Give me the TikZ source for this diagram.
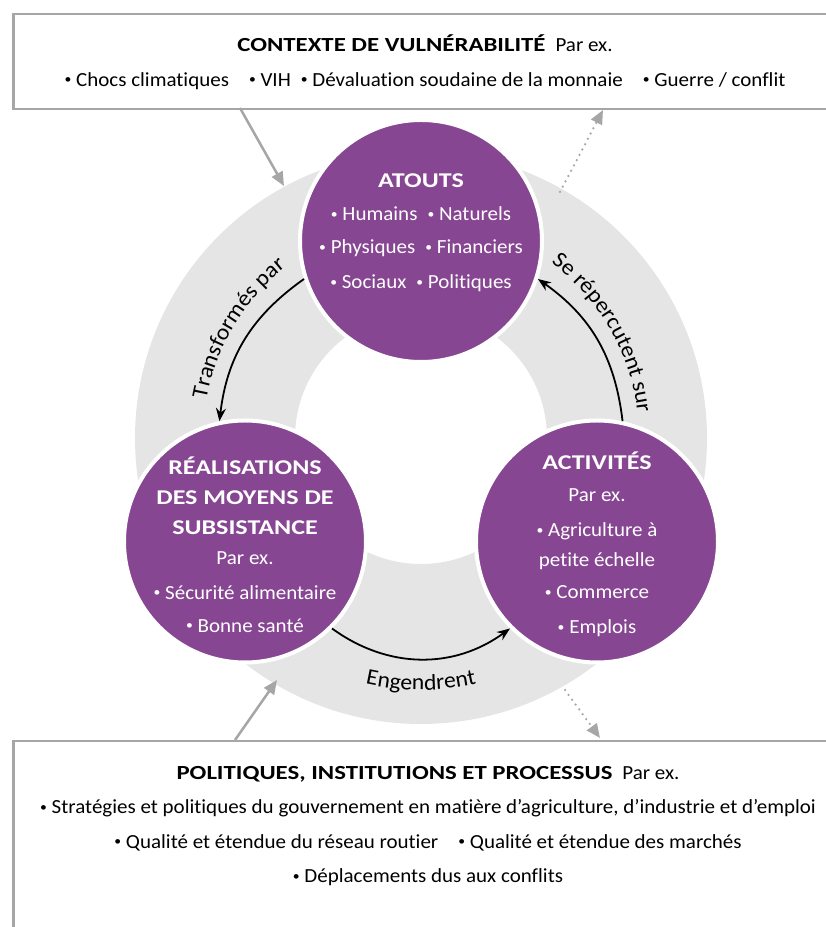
\documentclass[tikz,border=0pt]{standalone}
\usepackage{fontspec}
\setmainfont{Carlito}[
    Ligatures=NoCommon,
    UprightFeatures={FakeStretch=1.05},
    BoldFeatures={FakeStretch=1.24}]
\newfontfamily\arcfamily{Carlito}[Ligatures=NoCommon, FakeStretch=1.05]
\usepackage{xcolor}
\usepackage{graphicx}
\usetikzlibrary{arrows.meta,decorations.text,positioning}

\definecolor{cPurple}{RGB}{135,70,146}
\definecolor{cRing}{RGB}{229,229,229}
\definecolor{cFrame}{RGB}{166,166,166}

\newcommand{\arcfont}{\arcfamily\fontsize{22.5}{22.5}\selectfont}
\newcommand{\ctitle}[1]{{\fontsize{21}{31}\selectfont\bfseries #1}}
\newcommand{\bul}{\raisebox{0.12em}{\scalebox{0.65}{•}}}

\tikzstyle{tsText} = [
    text=black,
    align=center,
    font=\fontsize{20}{34.5}\selectfont
]
\tikzstyle{tsFrame} = [
    rectangle,
    draw=cFrame,
    fill=white,
    line width=2.5pt
]
\tikzstyle{tsCircle} = [
    circle,
    fill=cPurple,
    draw=white,
    line width=4pt,
    minimum size=242pt,
    inner sep=0pt
]
\tikzstyle{tsCircleText} = [
    text=white,
    align=center,
    font=\fontsize{20}{31}\selectfont
]
\tikzstyle{tsGrayArrow} = [
    cFrame,
    line width=2.5pt,
    -{Triangle[length=14pt,width=12pt]}
]
\tikzstyle{tsDotArrow} = [
    tsGrayArrow,
    dash pattern=on 0pt off 6pt,
    line cap=round
]
\tikzstyle{tsBlackArrow} = [
    black,
    line width=1.8pt,
    -{Stealth[length=13pt,width=10pt]}
]

\begin{document}
\begin{tikzpicture}[x=1pt, y=1pt]

        \useasboundingbox (0,0) rectangle (826,927);

        % context and institutions frames
        \node[tsFrame, anchor=north west, minimum width=840pt, minimum height=95pt] (ctx) at (12,914) {};
        \node[tsText] (ctxtxt) at (425,865) {\textbf{CONTEXTE DE VULNÉRABILITÉ}\enspace Par ex.\\
            \bul\ Chocs climatiques\quad \bul\ VIH\enspace \bul\ Dévaluation soudaine de la monnaie\quad \bul\ Guerre / conflit};

        \node[tsFrame, anchor=north west, minimum width=840pt, minimum height=230pt] (pip) at (12,187) {};
        \node[tsText] (piptxt) at (428,101) {\textbf{POLITIQUES, INSTITUTIONS ET PROCESSUS}\enspace Par ex.\\
            \bul\ Stratégies et politiques du gouvernement en matière d’agriculture, d’industrie et d’emploi\\
            \bul\ Qualité et étendue du réseau routier\quad \bul\ Qualité et étendue des marchés\\
            \bul\ Déplacements dus aux conflits};

        % ring
        \coordinate (ring) at (421,489);
        \fill[cRing, even odd rule] (ring) circle (286) (ring) circle (126);

        % arrows from and to the frames
        \coordinate (ctxA) at (240,819);
        \coordinate (ringA) at (284,741);
        \coordinate (ringB) at (560,735);
        \coordinate (ctxB) at (603,817);
        \coordinate (pipA) at (235,187);
        \coordinate (ringC) at (277,247);
        \coordinate (ringD) at (565,237);
        \coordinate (pipB) at (600,189);

        \draw[tsGrayArrow] (ctxA) -- (ringA);
        \draw[tsDotArrow] (ringB) -- (ctxB);
        \draw[tsGrayArrow] (pipA) -- (ringC);
        \draw[tsDotArrow] (ringD) -- (pipB);

        % the three circles
        \node[tsCircle] (atouts) at (421,686) {};
        \node[tsCircle] (realis) at (245,385.5) {};
        \node[tsCircle] (activ) at (597,385.5) {};

        \node[tsCircleText] (atoutstxt) at ([yshift=8]atouts) {\ctitle{ATOUTS}\\[2pt]
            \bul\ Humains\enspace \bul\ Naturels\\[2pt]
            \bul\ Physiques\enspace \bul\ Financiers\\[4pt]
            \bul\ Sociaux\enspace \bul\ Politiques};
        \node[tsCircleText] (realistxt) at ([yshift=-3]realis) {\ctitle{RÉALISATIONS}\\[-1pt]
            \ctitle{DES MOYENS DE}\\[-1pt]
            \ctitle{SUBSISTANCE}\\[-1pt]
            Par ex.\\[4pt]
            \bul\ Sécurité alimentaire\\[2pt]
            \bul\ Bonne santé};
        \node[tsCircleText] (activtxt) at ([yshift=-3]activ) {\ctitle{ACTIVITÉS}\\[1pt]
            Par ex.\\[4pt]
            \bul\ Agriculture à\\[-1pt]
            petite échelle\\[1pt]
            \bul\ Commerce\\[4pt]
            \bul\ Emplois};

        % cycle arrows
        \draw[tsBlackArrow] (atouts.198) to[bend right=24] (realis.102);
        \draw[tsBlackArrow] (activ.78) to[bend right=24] (atouts.342);
        \draw[tsBlackArrow] (realis.315) to[bend right=36] (activ.225);

        % labels along the ring
        \path[decorate, decoration={text along path, text align=center,
            text={|\arcfont|Transformés par}}]
            ([shift={(192:218)}]ring) arc[start angle=192, end angle=106, radius=218];
        \path[decorate, decoration={text along path, text align=center,
            text={|\arcfont|Se répercutent sur}}]
            ([shift={(76:218)}]ring) arc[start angle=76, end angle=-16, radius=218];
        \path[decorate, decoration={text along path, text align=center,
            text={|\arcfont|Engendrent}}]
            ([shift={(238:252)}]ring) arc[start angle=238, end angle=302, radius=252];

\end{tikzpicture}
\end{document}
